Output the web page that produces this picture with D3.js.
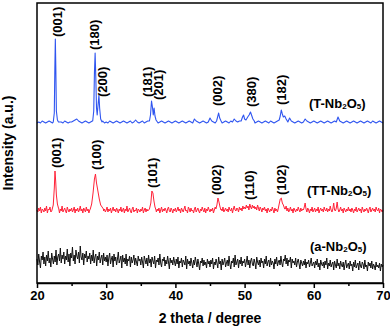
<!DOCTYPE html>
<html>
<head>
<meta charset="utf-8">
<script src="https://cdn.jsdelivr.net/npm/d3@7"></script>
<style>
    html, body { margin: 0; padding: 0; background: #fff; }
    svg { display: block; font-family: "Liberation Sans", Arial, sans-serif; font-weight: bold; }
</style>
</head>
<body>
<div id="chart"></div>
<script>
const width = 390;
const height = 328;
const margin = { top: 3, right: 7, bottom: 45, left: 37 };

// baseline scans start at 2 theta = 20 and run to 70
const scanStart = 20;
const tStep = 0.25;
const ttStep = 0.125;
const aStep = 0.125;

const tBase = [
    160, 161, 160, 162, 161, 160, 161, 162, 161, 160, 161, 160, 162, 161, 161, 160, 162, 161, 160, 161,
    161, 162, 163, 164, 162, 161, 160, 161, 162, 161, 160, 161, 162, 161, 163, 161, 160, 161, 162, 160,
    161, 160, 162, 161, 160, 161, 162, 161, 160, 161, 162, 161, 160, 161, 162, 160, 161, 163, 161, 160,
    161, 162, 160, 161, 162, 161, 160, 162, 161, 162, 160, 161, 162, 161, 160, 161, 162, 161, 160, 161,
    162, 161, 160, 161, 162, 161, 160, 161, 162, 161, 160, 164, 162, 161, 160, 161, 162, 161, 160, 161,
    165, 162, 161, 160, 161, 162, 161, 160, 161, 162, 161, 160, 162, 161, 164, 162, 161, 162, 163, 162,
    162, 163, 162, 161, 162, 161, 160, 161, 162, 161, 160, 161, 162, 161, 160, 162, 161, 160, 161, 162,
    161, 162, 163, 161, 162, 161, 165, 162, 161, 160, 161, 162, 161, 160, 161, 164, 162, 161, 160, 161,
    162, 161, 160, 161, 162, 161, 160, 161, 162, 161, 160, 161, 162, 161, 166, 162, 161, 160, 161, 162,
    161, 160, 161, 162, 161, 160, 161, 162, 161, 160, 161, 162, 161, 160, 162, 161, 160, 161, 162, 161, 160
];

const ttBase = [
    73, 71, 75, 72, 76, 70, 74, 73, 71, 75, 72, 77, 70, 74, 73, 76, 71, 72, 75, 70,
    74, 72, 76, 71, 73, 75, 70, 74, 72, 77, 71, 73, 75, 72, 70, 76, 73, 71, 74, 72,
    75, 71, 73, 76, 70, 74, 72, 75, 71, 73, 77, 72, 74, 70, 75, 73, 71, 76, 72, 74,
    70, 73, 75, 71, 74, 72, 76, 70, 73, 75, 71, 74, 72, 77, 70, 73, 75, 72, 74, 71,
    73, 76, 71, 74, 72, 75, 70, 73, 76, 72, 74, 71, 75, 73, 70, 74, 72, 76, 71, 73,
    75, 70, 74, 72, 77, 71, 73, 75, 72, 70, 74, 76, 71, 73, 72, 75, 70, 74, 73, 71,
    74, 72, 76, 70, 73, 75, 71, 74, 72, 73, 76, 71, 74, 70, 75, 72, 73, 77, 71, 74,
    72, 75, 70, 73, 76, 71, 74, 72, 75, 73, 70, 74, 76, 72, 71, 75, 73, 70, 74, 72,
    75, 71, 73, 76, 72, 74, 70, 75, 73, 71, 74, 77, 72, 73, 70, 76, 74, 71, 75, 72,
    73, 70, 74, 76, 71, 73, 75, 72, 70, 74, 72, 76, 73, 71, 75, 70, 74, 72, 76, 73,
    71, 74, 72, 75, 70, 73, 76, 72, 74, 71, 75, 73, 70, 74, 72, 76, 71, 73, 75, 72,
    74, 71, 76, 73, 72, 75, 70, 74, 77, 73, 72, 75, 74, 71, 76, 73, 75, 72, 77, 74,
    76, 74, 78, 75, 77, 73, 79, 76, 74, 78, 75, 77, 74, 76, 73, 78, 75, 72, 76, 74,
    71, 75, 73, 76, 72, 74, 70, 75, 73, 71, 74, 72, 76, 73, 70, 75, 72, 74, 71, 73,
    75, 72, 74, 71, 76, 73, 70, 74, 77, 72, 75, 71, 73, 76, 72, 74, 70, 75, 73, 71,
    74, 72, 76, 73, 71, 75, 72, 74, 73, 76, 80, 74, 71, 75, 73, 70, 74, 72, 76, 71,
    73, 75, 71, 74, 72, 76, 70, 73, 75, 72, 74, 71, 76, 73, 72, 75, 71, 74, 72, 77,
    73, 71, 74, 80, 73, 72, 75, 81, 74, 71, 73, 76, 72, 74, 70, 75, 73, 71, 74, 72,
    76, 72, 74, 71, 75, 73, 70, 74, 72, 76, 71, 73, 75, 72, 74, 70, 76, 73, 71, 74,
    72, 75, 73, 70, 74, 76, 71, 73, 75, 72, 74, 71, 76, 73, 72, 75, 70, 74, 73, 71, 73
];

const aBase = [
    24, 18, 29, 21, 15, 27, 23, 31, 19, 26, 17, 28, 22, 32, 20, 25, 16, 30, 24, 19,
    27, 21, 33, 18, 26, 29, 22, 35, 20, 28, 24, 31, 19, 27, 23, 34, 21, 29, 17, 30,
    25, 36, 22, 28, 19, 33, 27, 24, 31, 20, 37, 26, 23, 30, 18, 29, 25, 32, 21, 27,
    24, 30, 19, 28, 22, 33, 20, 26, 29, 17, 27, 23, 31, 20, 25, 28, 18, 30, 22, 26,
    21, 28, 17, 25, 30, 19, 24, 27, 16, 29, 22, 26, 18, 24, 31, 20, 23, 27, 15, 28,
    21, 25, 19, 29, 17, 24, 22, 27, 16, 26, 20, 23, 28, 18, 25, 21, 17, 27, 22, 24,
    18, 26, 21, 15, 27, 23, 19, 25, 17, 28, 20, 24, 16, 26, 22, 19, 27, 15, 23, 21,
    25, 18, 29, 20, 16, 24, 22, 26, 17, 23, 19, 27, 21, 14, 25, 20, 23, 18, 26, 21,
    17, 24, 19, 26, 15, 22, 20, 25, 16, 23, 21, 18, 27, 14, 24, 19, 22, 17, 25, 20,
    15, 23, 18, 26, 21, 16, 24, 19, 13, 22, 20, 25, 17, 23, 18, 21, 15, 24, 19, 22,
    16, 23, 19, 25, 14, 21, 18, 24, 20, 15, 26, 19, 22, 13, 24, 18, 21, 25, 16, 20,
    23, 17, 27, 19, 14, 22, 20, 25, 16, 28, 18, 21, 24, 15, 23, 19, 26, 17, 22, 20,
    24, 16, 21, 27, 18, 23, 15, 22, 25, 19, 17, 24, 20, 14, 26, 21, 18, 23, 16, 25,
    20, 22, 15, 24, 19, 27, 17, 21, 23, 16, 25, 18, 22, 20, 14, 24, 19, 26, 17, 21,
    23, 18, 27, 20, 16, 24, 22, 28, 19, 25, 17, 23, 21, 26, 15, 24, 20, 22, 18, 25,
    16, 21, 24, 19, 14, 23, 20, 17, 22, 18, 24, 15, 21, 19, 23, 16, 20, 25, 17, 19,
    21, 15, 22, 18, 24, 16, 20, 13, 23, 19, 17, 21, 15, 22, 18, 25, 14, 20, 17, 23,
    16, 19, 21, 13, 22, 18, 15, 24, 17, 20, 14, 22, 18, 16, 21, 13, 19, 23, 15, 18,
    20, 14, 22, 17, 19, 12, 21, 16, 23, 15, 18, 20, 13, 22, 17, 15, 21, 19, 14, 23,
    16, 18, 12, 21, 17, 20, 15, 22, 14, 19, 17, 13, 21, 16, 18, 15, 20, 12, 19, 16, 18
];

// reflections: [2 theta, intensity]
const tPeaks = [
    [[22.35, 161], [22.5, 170], [22.58, 215], [22.65, 244], [22.72, 215], [22.8, 172], [22.95, 163], [23.1, 161]],
    [[28.05, 162], [28.2, 172], [28.3, 210], [28.4, 230], [28.5, 205], [28.6, 175], [28.7, 168], [28.82, 178],
        [28.95, 188], [29.05, 175], [29.2, 164], [29.4, 161]],
    [[36.25, 162], [36.4, 168], [36.55, 182], [36.68, 176], [36.8, 168], [36.92, 175], [37.05, 167], [37.2, 163], [37.4, 161]],
    [[45.95, 162], [46.1, 166], [46.25, 170], [46.4, 165], [46.6, 162]],
    [[49.5, 162], [49.7, 166], [49.85, 168], [50.0, 164], [50.2, 163], [50.45, 166], [50.65, 168], [50.85, 171],
        [51.0, 168], [51.2, 164], [51.4, 162]],
    [[55.0, 163], [55.15, 167], [55.3, 173], [55.45, 169], [55.6, 166], [55.8, 167], [56.0, 164]]
];

const ttPeaks = [
    [[22.2, 74], [22.35, 78], [22.5, 95], [22.6, 112], [22.7, 102], [22.8, 88], [22.95, 79], [23.1, 75]],
    [[27.7, 74], [27.9, 79], [28.1, 90], [28.3, 104], [28.45, 109], [28.6, 100], [28.8, 92], [29.0, 84],
        [29.2, 78], [29.4, 76], [29.6, 74]],
    [[36.25, 74], [36.45, 80], [36.6, 92], [36.75, 90], [36.9, 82], [37.05, 76], [37.2, 73]],
    [[45.85, 74], [46.0, 78], [46.15, 85], [46.3, 81], [46.45, 76], [46.6, 73]],
    [[54.85, 74], [55.0, 79], [55.15, 84], [55.3, 85], [55.45, 80], [55.6, 78], [55.8, 74]]
];

const aPeaks = [];

// hkl labels: [text, 2 theta of text baseline, intensity at text start]
const tLabels = [
    ['(001)', 23.6, 246], ['(180)', 28.95, 233], ['(200)', 30.1, 186], ['(181)', 36.6, 186],
    ['(201)', 38.2, 183], ['(002)', 46.7, 177], ['(380)', 51.6, 176], ['(182)', 56.0, 178]
];
const ttLabels = [
    ['(001)', 23.5, 115], ['(100)', 29.25, 113], ['(101)', 37.3, 95], ['(002)', 46.6, 88],
    ['(110)', 51.4, 83], ['(102)', 56.0, 88]
];

const phases = [
    { name: 'T', color: '#2f55f0', base: tBase, step: tStep, peaks: tPeaks, labels: tLabels, at: [59.3, 175] },
    { name: 'TT', color: '#ff2238', base: ttBase, step: ttStep, peaks: ttPeaks, labels: ttLabels, at: [59.0, 88] },
    { name: 'a', color: '#111111', base: aBase, step: aStep, peaks: aPeaks, labels: [], at: [59.45, 32] }
];

const xTicks = [20, 30, 40, 50, 60, 70];
const xMinorTicks = [25, 35, 45, 55, 65];

const svg = d3.select('#chart')
    .append('svg')
    .attr('width', width)
    .attr('height', height);

const x = d3.scaleLinear()
    .domain([20, 70])
    .range([margin.left, width - margin.right]);

const y = d3.scaleLinear()
    .domain([0, 280])
    .range([height - margin.bottom, margin.top]);

// merge baseline scan with the peak points, dropping scan points under a peak
const buildScan = (base, step, peaks) => {
    const ranges = peaks.map((p) => [p[0][0], p[p.length - 1][0]]);
    const pts = base
        .map((v, i) => [scanStart + i * step, v])
        .filter((d) => !ranges.some((r) => d[0] >= r[0] && d[0] <= r[1]));
    peaks.forEach((p) => p.forEach((d) => pts.push(d)));
    return pts.sort((a, b) => a[0] - b[0]);
};

const line = d3.line()
    .x((d) => x(d[0]))
    .y((d) => y(d[1]));

// SCANS
const scans = svg.append('g');

phases.forEach((p) => {
    scans.append('path')
        .datum(buildScan(p.base, p.step, p.peaks))
        .attr('fill', 'none')
        .attr('stroke', p.color)
        .attr('stroke-width', p.name === 'T' ? 1.1 : 1)
        .attr('stroke-linejoin', 'round')
        .attr('d', line);
});

// HKL LABELS
const labels = svg.append('g')
    .attr('font-size', 13)
    .attr('fill', '#000');

phases.forEach((p) => {
    labels.selectAll(null)
        .data(p.labels)
        .enter()
        .append('text')
        .attr('transform', (d) => `translate(${x(d[1])},${y(d[2])}) rotate(-90)`)
        .text((d) => d[0]);

    const name = labels.append('text')
        .attr('x', x(p.at[0]))
        .attr('y', y(p.at[1]));
    name.append('tspan').text(`(${p.name}-Nb`);
    name.append('tspan').attr('font-size', 8).attr('dy', 1).text('2');
    name.append('tspan').attr('dy', -1).text('O');
    name.append('tspan').attr('font-size', 8).attr('dy', 1).text('5');
    name.append('tspan').attr('dy', -1).text(')');
});

// FRAME & AXES
svg.append('rect')
    .attr('x', x(20))
    .attr('y', y(280))
    .attr('width', x(70) - x(20))
    .attr('height', y(0) - y(280))
    .attr('fill', 'none')
    .attr('stroke', '#000')
    .attr('stroke-width', 1.5);

const xAxis = svg.append('g')
    .attr('transform', `translate(0,${y(0)})`)
    .call(d3.axisBottom(x)
        .tickValues(xTicks)
        .tickSize(5)
        .tickSizeOuter(0)
        .tickPadding(3)
        .tickFormat(d3.format('d')));

xAxis.select('.domain').attr('stroke-width', 1.5);
xAxis.selectAll('.tick line').attr('stroke-width', 1.5);
xAxis.selectAll('.tick text')
    .attr('font-family', '"Liberation Sans", Arial, sans-serif')
    .attr('font-weight', 'bold')
    .attr('font-size', 13)
    .attr('fill', '#000');

const xMinor = svg.append('g')
    .attr('transform', `translate(0,${y(0)})`)
    .call(d3.axisBottom(x)
        .tickValues(xMinorTicks)
        .tickSize(3)
        .tickSizeOuter(0)
        .tickFormat(''));

xMinor.select('.domain').remove();
xMinor.selectAll('.tick line').attr('stroke-width', 1.5);

// AXIS TITLES
svg.append('text')
    .attr('x', (x(20) + x(70)) / 2)
    .attr('y', 323)
    .attr('text-anchor', 'middle')
    .attr('font-size', 14)
    .text('2 theta / degree');

svg.append('text')
    .attr('transform', `translate(13,${(y(0) + y(280)) / 2}) rotate(-90)`)
    .attr('text-anchor', 'middle')
    .attr('font-size', 14)
    .text('Intensity (a.u.)');
</script>
</body>
</html>
